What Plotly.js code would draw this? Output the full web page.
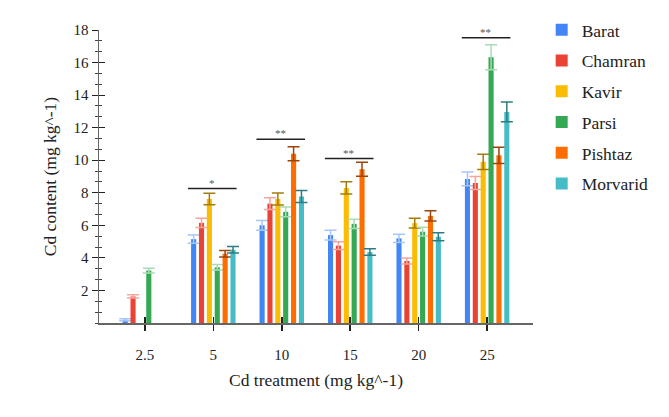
<!DOCTYPE html>
<html>
<head>
<meta charset="utf-8">
<script src="https://cdn.plot.ly/plotly-3.0.1.min.js"></script>
<style>html,body{margin:0;padding:0;background:#fff;}#chart{width:669px;height:417px;}</style>
</head>
<body>
<div id="chart"></div>
<script>
const categories = ["2.5", "5", "10", "15", "20", "25"];
const cultivars = ["Barat", "Chamran", "Kavir", "Parsi", "Pishtaz", "Morvarid"];
const barat    = [0.2, 5.15, 6.0, 5.4, 5.2, 8.85];
const chamran  = [1.63, 6.15, 7.33, 4.75, 3.81, 8.6];
const kavir    = [null, 7.62, 7.62, 8.3, 6.13, 9.9];
const parsi    = [3.22, 3.42, 6.83, 6.09, 5.61, 16.33];
const pishtaz  = [null, 4.26, 10.4, 9.45, 6.58, 10.3];
const morvarid = [null, 4.5, 7.77, 4.36, 5.3, 12.97];
const baratErr    = [0.06, 0.25, 0.3, 0.3, 0.25, 0.42];
const chamranErr  = [0.1, 0.28, 0.36, 0.24, 0.19, 0.4];
const kavirErr    = [null, 0.35, 0.37, 0.38, 0.3, 0.47];
const parsiErr    = [0.15, 0.17, 0.3, 0.29, 0.27, 0.77];
const pishtazErr  = [null, 0.2, 0.43, 0.43, 0.32, 0.5];
const morvaridErr = [null, 0.2, 0.37, 0.2, 0.25, 0.61];
const sigLabels  = ["", "*", "**", "**", "", "**"];
const sigHeights = [null, 8.26, 11.29, 10.1, null, 17.52];

const values = [barat, chamran, kavir, parsi, pishtaz, morvarid];
const errors = [baratErr, chamranErr, kavirErr, parsiErr, pishtazErr, morvaridErr];
const colors = ["#4285F4", "#EA4335", "#FBBC04", "#34A853", "#FF6D01", "#46BDC6"];
const errColors = ["#a8c6f8", "#f3a59e", "#a57c0a", "#a9dbb6", "#9c4308", "#2c7d83"];

const font = "Liberation Serif";
const traces = cultivars.map((name, i) => ({
  type: "bar",
  name: name,
  x: categories,
  y: values[i],
  legendgroup: name,
  marker: {color: colors[i]},
  error_y: {type: "data", array: errors[i], visible: true, color: errColors[i], thickness: 1.5, width: 6}
}));

// Overlay trace for crossing ticks
traces.push({type: "scatter", x: categories, y: categories.map(() => null), xaxis: "x2", yaxis: "y2", showlegend: false, hoverinfo: "skip"});

const shapes = [];
const annotations = [];
categories.forEach((c, i) => {
  if (sigHeights[i] === null) return;
  shapes.push({type: "line", xref: "x", yref: "y", x0: i - 0.37, x1: i + 0.34, y0: sigHeights[i], y1: sigHeights[i], line: {color: "#222", width: 1.5}});
  annotations.push({xref: "x", yref: "y", x: i - 0.02, y: sigHeights[i], text: sigLabels[i], showarrow: false, yanchor: "bottom", yshift: -2, font: {family: font, size: 11, color: "#555"}});
});

const minorT = 2 / 3;
const layout = {
  width: 669, height: 417,
  margin: {l: 99, r: 136, t: 30, b: 94},
  paper_bgcolor: "#fff", plot_bgcolor: "#fff",
  barmode: "group", bargap: 0.31, bargroupgap: 0.35,
  font: {family: font, size: 15, color: "#222"},
  xaxis: {
    type: "category", range: [-0.67, 5.67],
    showline: true, linecolor: "#666", linewidth: 1.5,
    ticks: "outside", ticklen: 6, tickcolor: "#222", tickwidth: 1.5,
    ticklabelstandoff: 11,
    showgrid: false, zeroline: false,
    tickfont: {family: font, size: 15, color: "#222"},
    title: {text: "Cd treatment (mg kg^-1)", font: {family: font, size: 17.5, color: "#222"}, standoff: 12}
  },
  yaxis: {
    range: [0, 18],
    showline: true, linecolor: "#666", linewidth: 1.5,
    ticks: "outside", ticklen: 6, tickcolor: "#222", tickwidth: 1,
    tickvals: [2, 4, 6, 8, 10, 12, 14, 16, 18],
    minor: {tick0: 0, dtick: minorT, ticks: "outside", ticklen: 3, tickcolor: "#444", tickwidth: 1},
    showgrid: false, zeroline: false,
    tickfont: {family: font, size: 15, color: "#222"},
    title: {text: "Cd content (mg kg^-1)", font: {family: font, size: 17.5, color: "#222"}, standoff: 12}
  },
  xaxis2: {overlaying: "x", matches: "x", type: "category", range: [-0.67, 5.67], showline: false, ticks: "inside", ticklen: 6, tickcolor: "#222", tickwidth: 1.5, showticklabels: false, showgrid: false, zeroline: false, anchor: "y2"},
  yaxis2: {overlaying: "y", range: [0, 18], showline: false, ticks: "inside", ticklen: 6, tickcolor: "#222", tickwidth: 1, tickvals: [2, 4, 6, 8, 10, 12, 14, 16, 18], minor: {tick0: 0, dtick: minorT, ticks: "inside", ticklen: 3, tickcolor: "#444"}, showticklabels: false, showgrid: false, zeroline: false, anchor: "x2"},
  legend: {x: 1.02, xanchor: "left", y: 1.062, yanchor: "top", tracegroupgap: 5, font: {family: font, size: 17.5, color: "#222"}, itemwidth: 30},
  shapes: shapes,
  annotations: annotations,
  showlegend: true
};

Plotly.newPlot("chart", traces, layout, {displayModeBar: false, staticPlot: true});
</script>
</body>
</html>
